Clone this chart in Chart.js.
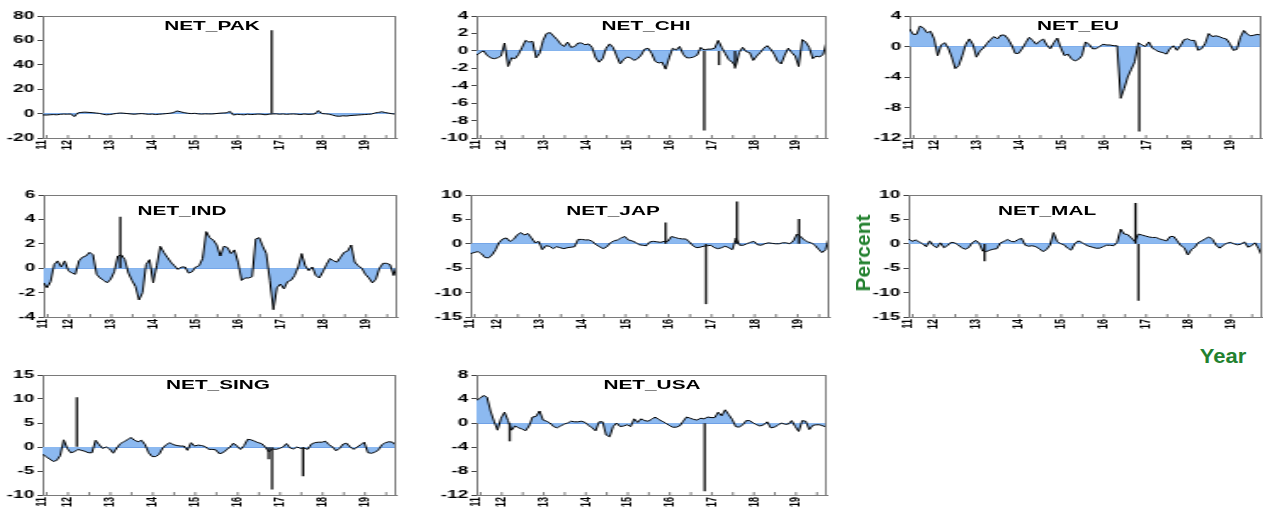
<!DOCTYPE html>
<html>
<head>
<meta charset="utf-8">
<script src="https://cdn.jsdelivr.net/npm/chart.js@4.4.0/dist/chart.umd.min.js"></script>
<style>
  html, body { margin: 0; padding: 0; background: #fff; width: 1263px; height: 510px; overflow: hidden; }
  .wrap { position: absolute; transform-origin: 0 0; }
  .ttl { position: absolute; font: bold 13px "Liberation Sans", Arial, sans-serif; color: #000;
         transform: translate(-50%, -50%) scaleX(1.6); white-space: nowrap; }
  .side { position: absolute; font: bold 21px "Liberation Sans", Arial, sans-serif; color: #23812f; white-space: nowrap; }
</style>
</head>
<body>
<script>
// monthly observations, first one at 2011.4, last one near the end of 2019
const startYear = 2011.4;
const endYear = 2019.733;
const yearTicks = [2011.4, 2012, 2013, 2014, 2015, 2016, 2017, 2018, 2019];

const netPak = [-1,-1.2,-1,-0.8,-1,-0.6,-0.4,-0.5,-0.3,-2.5,0.6,1,
  1.2,1,0.8,0.5,0.2,-0.5,-1,-0.8,-0.3,0.2,0.5,0.3,
  0,-0.3,-0.5,-0.2,0,-0.3,-0.6,-0.4,-0.8,-0.5,-0.3,0,
  0.3,0.8,2.2,1.5,0.8,0.3,0,0.2,-0.2,-0.4,-0.2,-0.3,
  -0.3,0,0.3,0.5,0.6,1.8,-1.2,-0.6,-0.8,-1,-0.5,-0.8,
  -0.6,-0.4,-0.5,-1,-0.5,-0.3,-0.2,-0.5,-0.3,-0.6,-0.4,-0.3,
  -0.5,-0.8,-0.3,-0.6,-0.5,-0.3,2.5,0,-0.2,-0.5,-1.2,-2,
  -2.2,-1.8,-2,-1.6,-1.4,-1.2,-1,-0.8,-0.6,-0.4,0.5,1,
  1.5,0.8,0.3,-0.2,-0.5];
const netChi = [-0.5,-0.2,0,-0.5,-0.8,-0.9,-0.8,-0.6,0.9,-1.8,-0.8,-0.9,
  -0.4,0.4,1.2,1.0,1.1,-0.8,-0.3,1.2,2.0,2.1,1.7,1.3,
  0.8,0.5,1.0,0.4,0.5,0.9,0.9,0.7,0.8,0.4,-0.8,-1.3,
  -0.9,0.3,0.8,0.4,-0.6,-1.5,-1.0,-0.7,-0.8,-1.1,-0.9,-0.5,
  0.2,0.3,-0.3,-1.2,-1.4,-1.3,-2.1,-0.8,0.3,0.1,0.5,-0.4,
  -0.8,-0.8,-0.7,-0.5,0.4,0.1,0.2,0.2,0.3,1.2,0.4,-0.3,
  -1.0,-1.3,-1.8,-0.2,0.4,-0.1,-0.2,-1.1,-0.6,-0.2,0.3,0.6,
  0.2,-0.4,-1.2,-1.5,-0.5,0.3,-0.2,-0.6,-1.8,1.3,1.0,0.4,
  -0.9,-0.6,-0.7,-0.4,1.2];
const netEu = [2.3,1.6,1.6,2.7,2.4,1.8,2.0,1.0,-1.2,0.2,0.5,-0.2,
  -1.4,-2.9,-2.5,-1.2,0.3,1.0,0.3,-1.4,-0.6,-0.2,0.4,0.9,
  1.3,1.0,1.5,1.5,1.0,0.2,-0.9,-0.9,-0.3,0.5,1.2,0.8,
  0.3,0.7,1.0,0.2,-0.3,0.5,1.1,-0.2,-1.2,-1.0,-1.6,-1.9,
  -1.7,-1.2,0.6,0.3,-0.3,-0.3,0,0.3,0.2,0.2,0.1,0.1,
  -6.8,-5.5,-4.0,-3.0,-2.0,0.5,0.2,0,0.6,-0.2,-0.5,-0.7,
  -0.8,-1.0,-0.3,0.1,-0.5,0.1,0.9,1.0,0.8,0.8,-0.5,-0.3,
  0.4,1.7,1.3,1.4,1.3,1.1,1.0,0.4,-0.5,-0.4,1.2,2.1,
  1.6,1.4,1.5,1.6,1.4];
const netInd = [-1.2,-1.6,-1.1,0.3,0.6,0.1,0.6,-0.2,-0.4,-0.5,0.6,0.9,
  1.0,1.3,1.1,-0.5,-0.8,-1.0,-1.2,-0.9,-0.3,1.0,1.1,0.7,
  -0.4,-1.0,-1.5,-2.6,-2.0,0.3,0.7,-1.2,0.2,1.8,1.3,0.9,
  0.5,0.2,-0.1,0.1,0.1,-0.4,-0.3,0.1,0.2,0.8,3.0,2.5,
  2.3,1.9,1.0,1.8,1.7,1.2,1.5,0.5,-1.0,-0.8,-0.8,-0.7,
  2.4,2.5,1.8,1.2,-1.0,-3.4,-1.6,-1.3,-1.7,-1.1,-1.0,-0.6,
  0.1,1.2,0.2,-0.2,0.1,-0.6,-0.8,-0.3,0.3,0.8,0.6,0.5,
  0.9,1.3,1.4,1.9,0.5,0.2,0,-0.5,-0.8,-1.2,-0.9,0,
  0.4,0.4,0.3,-0.6,0.3];
const netJap = [-2.0,-1.8,-1.6,-2.0,-2.8,-2.9,-2.3,-1.2,0.3,1.0,1.2,0.5,
  0.9,1.8,2.3,1.8,2.1,1.2,0.2,0.5,-1.2,-0.4,-0.5,-1.0,
  -0.6,-0.8,-1.0,-0.8,-0.7,-0.6,0.9,0.9,0.8,0.8,0.5,-0.2,
  -0.6,-1.0,-0.6,0.2,0.6,0.8,1.2,1.5,0.8,0.6,0.3,-0.2,
  -0.3,-0.4,0.4,0.5,0.4,0.3,0.5,0.5,1.5,1.3,1.1,1.0,
  1.0,0.4,-0.4,-0.8,-0.7,-0.5,-0.4,-0.3,-0.8,-1.0,-0.8,-0.5,
  -0.8,-1.2,1.2,-0.3,-0.3,0,0.3,0.5,-0.2,-0.3,0,0.2,
  0.1,0,0,0.2,0.2,0,0.6,2.0,1.5,0.8,0.4,0.2,
  -0.3,-1.1,-1.8,-1.2,1.5];
const netMal = [1.0,0.5,0.8,0.4,0,-0.6,0.6,-0.4,-0.8,0.2,-0.8,-0.4,
  0.3,0.2,-0.2,-0.8,-1.1,-0.8,0.2,0.7,0.1,-1.5,-1.6,-1.3,
  -1.1,-1.0,0.2,0.5,0.9,0.5,0.4,0.9,1.1,-0.3,-0.5,-0.4,
  -0.6,-1.0,-1.6,-1.2,-0.3,2.3,0.5,0,-0.2,-0.9,-1.3,0,
  0.6,0.3,-0.2,-0.5,-0.7,-0.9,-0.9,-0.6,-0.3,-0.3,-0.4,0.3,
  3.0,2.0,1.9,1.2,0.5,2.0,1.8,1.6,1.4,1.3,1.3,1.0,
  0.8,0.6,1.5,1.5,0.6,-0.4,-0.8,-2.3,-1.2,-0.7,0.3,0.6,
  1.1,1.4,0.9,-0.3,-0.9,-0.3,0.1,0.3,0,-0.2,-0.1,0.4,
  -0.7,-0.4,0.2,-1.0,-2.6];
const netSing = [-1.5,-2.0,-2.5,-3.0,-2.8,-1.8,1.5,-0.3,-1.2,-1.0,-0.5,-0.7,
  -0.9,-1.2,-1.2,1.4,0.5,-0.3,0,-0.4,-1.3,-0.2,0.7,1.1,
  1.5,2.0,1.4,1.1,1.4,0.5,-1.2,-2.0,-2.0,-1.5,-0.2,0.5,
  0.9,0.5,0.3,0.2,0.2,-0.7,0.9,0.2,0.4,0.3,0.1,-0.5,
  -0.5,-0.6,-1.4,-1.2,-0.6,0,0.8,0.2,-0.5,0.3,1.6,1.5,
  1.2,0.9,0.7,0,-1.0,-0.4,-0.5,-0.3,0,0.7,-0.2,-0.4,
  0,-0.3,-0.2,-0.5,0.6,0.9,1.0,1.0,1.2,0.5,0,-0.8,
  -0.3,0.6,0.8,0,-0.5,0,0.5,1.0,-1.2,-1.3,-1.1,-0.6,
  0.5,0.9,1.1,1.0,0.3];
const netUsa = [3.8,4.1,4.6,4.3,2.0,0.3,-1.2,0.8,1.8,0.4,-1.2,-0.5,
  -0.8,-1.0,-1.3,-0.5,1.0,1.1,2.0,0.5,0.3,0,-0.6,-0.8,
  -0.5,-0.2,0,0.3,0.2,0.2,0.3,0.1,-0.4,-0.8,-1.3,0.2,
  0.2,-2.0,-2.3,-0.6,0,-0.6,-0.5,-0.3,-0.6,0.7,0.1,0.7,
  0.4,0.3,0.6,1.0,0.6,0.3,0,-0.4,-0.7,-0.7,-0.5,0.3,
  1.0,0.8,0.6,0.5,0.8,0.7,1.0,0.9,0.9,1.8,1.2,2.2,
  1.4,0.6,-0.6,-0.7,-0.3,0.4,0.4,0,-0.3,-0.5,-0.3,0.2,
  -0.8,-0.7,-0.4,0,-0.2,-0.2,0.4,-0.6,-1.4,0.4,0.3,-1.1,
  -0.4,-0.3,-0.3,-0.5,-0.7];

// single-day jumps: [date, value]
const pakSpikes = [[2016.80, 68]];
const chiSpikes = [[2016.82, -9.1], [2017.17, -1.6], [2017.55, -2.0]];
const euSpikes = [[2016.84, -11.1]];
const indSpikes = [[2013.21, 4.2]];
const japSpikes = [[2015.93, 4.3], [2016.87, -12.3], [2017.59, 8.6], [2019.03, 5.0]];
const malSpikes = [[2013.19, -3.5], [2016.75, 8.3], [2016.82, -11.6]];
const singSpikes = [[2012.21, 10.3], [2016.73, -2.5], [2016.81, -8.8], [2017.54, -6.0]];
const usaSpikes = [[2012.19, -3.0], [2016.83, -11.3]];

// panel layout (page pixels) and axis ranges
const panels = [
  { title: 'NET_PAK',  values: netPak,  spikes: pakSpikes,  min: -20, max: 80, step: 20, L: 42,  R: 396,  T: 16,  B: 138, tx: 212,  ty: 25 },
  { title: 'NET_CHI',  values: netChi,  spikes: chiSpikes,  min: -10, max: 4,  step: 2,  L: 476, R: 827,  T: 16,  B: 138, tx: 646,  ty: 25 },
  { title: 'NET_EU',   values: netEu,   spikes: euSpikes,   min: -12, max: 4,  step: 4,  L: 909, R: 1261, T: 16,  B: 138, tx: 1078, ty: 25 },
  { title: 'NET_IND',  values: netInd,  spikes: indSpikes,  min: -4,  max: 6,  step: 2,  L: 43,  R: 396,  T: 195, B: 317, tx: 182,  ty: 210 },
  { title: 'NET_JAP',  values: netJap,  spikes: japSpikes,  min: -15, max: 10, step: 5,  L: 470, R: 828,  T: 195, B: 317, tx: 613,  ty: 210 },
  { title: 'NET_MAL',  values: netMal,  spikes: malSpikes,  min: -15, max: 10, step: 5,  L: 908, R: 1261, T: 195, B: 317, tx: 1047, ty: 210 },
  { title: 'NET_SING', values: netSing, spikes: singSpikes, min: -10, max: 15, step: 5,  L: 42,  R: 396,  T: 375, B: 495, tx: 218,  ty: 384 },
  { title: 'NET_USA',  values: netUsa,  spikes: usaSpikes,  min: -12, max: 8,  step: 4,  L: 476, R: 827,  T: 375, B: 495, tx: 652,  ty: 384 }
];

const SX = 1.7;      // horizontal stretch of the original picture
const YW = 25;       // y axis width (canvas px)
const PR = 4;        // right padding
const PT = 9;        // top padding
const XH = 16;       // x axis height
const FILL = 'rgb(140,185,240)';
const ZERO = 'rgb(110,160,230)';
const FRAME = '#7a7a7a';
const tickFont = { family: '"Liberation Sans", Arial, sans-serif', weight: 'bold', size: 11 };
const xFont = { family: '"Liberation Sans", Arial, sans-serif', weight: 'bold', size: 9 };

const framePlugin = {
  id: 'frame',
  afterDatasetsDraw(chart) {
    const { ctx, chartArea: a, scales } = chart;
    ctx.save();
    ctx.strokeStyle = FRAME;
    ctx.lineWidth = 1;
    ctx.beginPath();
    ctx.moveTo(a.left, a.top + 0.5); ctx.lineTo(a.right, a.top + 0.5);
    ctx.moveTo(a.right - 0.5, a.top); ctx.lineTo(a.right - 0.5, a.bottom);
    for (let yr = 2011.5; yr < endYear; yr += 0.5) {
      const px = scales.x.getPixelForValue(yr);
      ctx.moveTo(px, a.bottom); ctx.lineTo(px, a.bottom - 3);
    }
    ctx.stroke();
    ctx.restore();
  }
};

panels.forEach(p => {
  const plotW = (p.R - p.L) / SX;
  const w = Math.round(YW + plotW + PR);
  const h = PT + (p.B - p.T) + XH;

  const wrap = document.createElement('div');
  wrap.className = 'wrap';
  wrap.style.left = (p.L - YW * SX) + 'px';
  wrap.style.top = (p.T - PT) + 'px';
  wrap.style.transform = 'scaleX(' + SX + ')';
  const cv = document.createElement('canvas');
  cv.width = w; cv.height = h;
  wrap.appendChild(cv);
  document.body.appendChild(wrap);

  const ttl = document.createElement('div');
  ttl.className = 'ttl';
  ttl.style.left = p.tx + 'px';
  ttl.style.top = p.ty + 'px';
  ttl.textContent = p.title;
  document.body.appendChild(ttl);

  new Chart(cv, {
    type: 'line',
    data: {
      datasets: [
        {
          type: 'line',
          data: p.values.map((v, i) => ({ x: startYear + i / 12, y: v })),
          borderColor: '#000',
          borderWidth: 1,
          pointRadius: 0,
          tension: 0,
          fill: 'origin',
          backgroundColor: FILL,
          order: 1
        },
        {
          type: 'bar',
          data: p.spikes.map(s => ({ x: s[0], y: s[1] })),
          backgroundColor: '#111',
          barThickness: 0.7,
          order: 0
        }
      ]
    },
    options: {
      responsive: false,
      animation: false,
      devicePixelRatio: 1,
      layout: { padding: { top: PT, right: PR, left: 0, bottom: 0 } },
      plugins: { legend: { display: false }, tooltip: { enabled: false } },
      scales: {
        x: {
          type: 'linear',
          min: startYear,
          max: endYear,
          offset: false,
          afterBuildTicks: s => { s.ticks = yearTicks.map(v => ({ value: v })); },
          afterFit: s => { s.height = XH; },
          ticks: {
            autoSkip: false, minRotation: 90, maxRotation: 90, padding: 2,
            font: xFont, color: '#000',
            callback: v => String(Math.floor(v) % 100)
          },
          grid: { offset: false, drawOnChartArea: false, drawTicks: false },
          border: { color: FRAME, width: 1 }
        },
        y: {
          min: p.min,
          max: p.max,
          afterFit: s => { s.width = YW; },
          ticks: { stepSize: p.step, font: tickFont, color: '#000', padding: 2 },
          grid: {
            color: c => (c.tick && c.tick.value === 0 ? ZERO : 'rgba(0,0,0,0)'),
            tickColor: '#444',
            tickLength: 3
          },
          border: { color: FRAME, width: 1 }
        }
      }
    },
    plugins: [framePlugin]
  });
});

// shared axis captions
const pct = document.createElement('div');
pct.className = 'side';
pct.textContent = 'Percent';
pct.style.left = '863px';
pct.style.top = '253px';
pct.style.transform = 'translate(-50%, -50%) rotate(-90deg)';
document.body.appendChild(pct);

const yr = document.createElement('div');
yr.className = 'side';
yr.textContent = 'Year';
yr.style.fontSize = '20px';
yr.style.left = '1223px';
yr.style.top = '356px';
yr.style.transform = 'translate(-50%, -50%) scaleX(1.1)';
document.body.appendChild(yr);
</script>
</body>
</html>
